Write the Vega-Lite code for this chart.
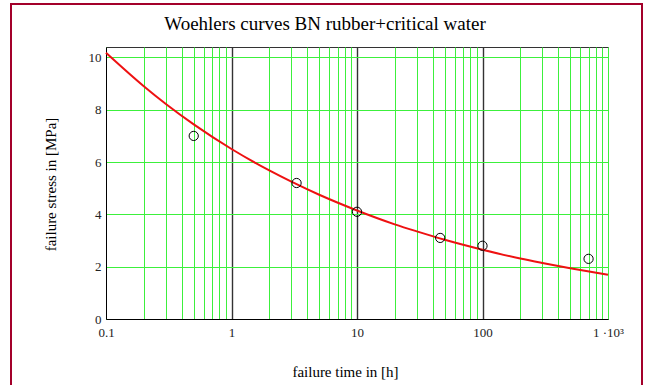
{
  "$schema": "https://vega.github.io/schema/vega-lite/v6.json",
  "autosize": "none",
  "width": 502,
  "height": 272,
  "padding": {"left": 106, "top": 47, "right": 37, "bottom": 66},
  "background": "white",
  "title": {
    "text": "Woehlers curves BN rubber+critical water",
    "font": "Liberation Serif",
    "fontSize": 19,
    "fontWeight": "normal",
    "color": "black",
    "anchor": "middle",
    "baseline": "bottom",
    "offset": 12,
    "dx": -32,
    "dy": 62
  },
  "config": {
    "view": {"stroke": "#333333", "strokeWidth": 1},
    "font": "Liberation Serif",
    "axis": {"labelFont": "Liberation Serif", "titleFont": "Liberation Serif"}
  },
  "datasets": {
    "fit": [
      {"t": 0.1, "s": 10.18},
      {"t": 0.2, "s": 8.9},
      {"t": 0.3, "s": 8.22},
      {"t": 0.5, "s": 7.44},
      {"t": 1, "s": 6.5},
      {"t": 2, "s": 5.68},
      {"t": 3, "s": 5.25},
      {"t": 5, "s": 4.75},
      {"t": 10, "s": 4.15},
      {"t": 20, "s": 3.62},
      {"t": 30, "s": 3.35},
      {"t": 50, "s": 3.03},
      {"t": 100, "s": 2.65},
      {"t": 200, "s": 2.31},
      {"t": 300, "s": 2.14},
      {"t": 500, "s": 1.94},
      {"t": 1000, "s": 1.69}
    ],
    "measured": [
      {"t": 0.5, "s": 7.0},
      {"t": 3.3, "s": 5.2},
      {"t": 10, "s": 4.1},
      {"t": 46, "s": 3.1},
      {"t": 100, "s": 2.8},
      {"t": 700, "s": 2.3}
    ],
    "frame": [{"name": "frame"}]
  },
  "layer": [
    {
      "data": {"name": "frame"},
      "mark": {"type": "rect", "fill": null, "stroke": "#a3002a", "strokeWidth": 2, "clip": false},
      "encoding": {
        "x": {"value": -95},
        "x2": {"value": 536},
        "y": {"value": -43},
        "y2": {"value": 380}
      }
    },
    {
      "data": {"name": "fit"},
      "mark": {"type": "line", "color": "#ee1111", "strokeWidth": 2, "interpolate": "monotone"},
      "encoding": {
        "x": {
          "field": "t",
          "type": "quantitative",
          "scale": {"type": "log", "domain": [0.1, 1000], "nice": false},
          "axis": {
            "title": "failure time in [h]",
            "titleFont": "Liberation Serif",
            "titleFontSize": 15,
            "titleFontWeight": "normal",
            "titleColor": "black",
            "titleX": 239,
            "titleY": 57,
            "titleAnchor": null,
            "titleAlign": "center",
            "titleBaseline": "alphabetic",
            "values": [0.1, 0.2, 0.3, 0.4, 0.5, 0.6, 0.7, 0.8, 0.9, 1, 2, 3, 4, 5, 6, 7, 8, 9, 10, 20, 30, 40, 50, 60, 70, 80, 90, 100, 200, 300, 400, 500, 600, 700, 800, 900, 1000],
            "labelExpr": "datum.value == 0.1 ? '0.1' : datum.value == 1 ? '1' : datum.value == 10 ? '10' : datum.value == 100 ? '100' : datum.value == 1000 ? '1 ·10³' : ''",
            "labelOverlap": false,
            "labelFlush": false,
            "labelFont": "Liberation Serif",
            "labelFontSize": 13,
            "labelColor": "#222222",
            "labelPadding": 7,
            "ticks": false,
            "domainColor": "black",
            "domainWidth": 1,
            "grid": true,
            "gridColor": {
              "condition": {"test": "datum.value == 1 || datum.value == 10 || datum.value == 100", "value": "#333333"},
              "value": "#3cf03c"
            },
            "gridWidth": {
              "condition": {"test": "datum.value == 1 || datum.value == 10 || datum.value == 100", "value": 1.4},
              "value": 1
            },
            "gridOpacity": 1
          }
        },
        "y": {
          "field": "s",
          "type": "quantitative",
          "scale": {"domain": [0, 10.4], "nice": false, "zero": true},
          "axis": {
            "title": "failure stress in [MPa]",
            "titleFont": "Liberation Serif",
            "titleFontSize": 15,
            "titleFontWeight": "normal",
            "titleColor": "black",
            "titleAngle": 270,
            "titleX": -51,
            "titleY": 137,
            "titleAnchor": null,
            "titleAlign": "center",
            "titleBaseline": "alphabetic",
            "values": [0, 2, 4, 6, 8, 10],
            "labelFont": "Liberation Serif",
            "labelFontSize": 13,
            "labelColor": "#222222",
            "labelPadding": 5,
            "labelFlush": false,
            "ticks": false,
            "domainColor": "black",
            "domainWidth": 1,
            "grid": true,
            "gridColor": "#3cf03c",
            "gridWidth": 1,
            "gridOpacity": 1
          }
        }
      }
    },
    {
      "data": {"name": "measured"},
      "mark": {"type": "point", "shape": "circle", "filled": false, "color": "black", "strokeWidth": 1, "size": 85, "opacity": 1},
      "encoding": {
        "x": {"field": "t", "type": "quantitative"},
        "y": {"field": "s", "type": "quantitative"}
      }
    }
  ]
}
